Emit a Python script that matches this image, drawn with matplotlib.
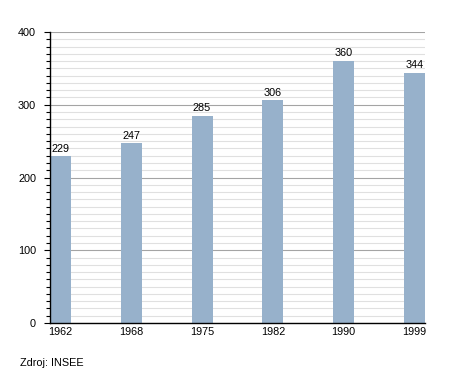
import matplotlib
matplotlib.use("Agg")
import matplotlib.pyplot as plt
from matplotlib.ticker import MultipleLocator

years = ["1962", "1968", "1975", "1982", "1990", "1999"]
values = [229, 247, 285, 306, 360, 344]

plt.rcParams['font.family'] = ['Liberation Sans', 'DejaVu Sans']

fig = plt.figure(figsize=(4.55, 3.73), dpi=100)
ax = fig.add_axes([50/455, 50/373, 375/455, 291/373])

x = list(range(len(years)))
w = 0.3
bars = ax.bar(x, values, width=w, color="#97b1cb", zorder=3)
for xi, v in zip(x, values):
    ax.annotate(str(v), (xi, v), xytext=(0, 2), textcoords="offset points",
                ha="center", va="bottom", fontsize=7.8, zorder=4)

ax.set_xlim(-w/2, len(years) - 1 + w/2)
ax.set_ylim(0, 400)
ax.set_xticks(x)
ax.set_xticklabels(years, fontsize=7.8)
ax.yaxis.set_major_locator(MultipleLocator(100))
ax.yaxis.set_minor_locator(MultipleLocator(10))
ax.tick_params(axis='y', which='major', labelsize=7.8, length=4, width=0.8, pad=6)
ax.tick_params(axis='y', which='minor', length=3, width=0.8)
ax.tick_params(axis='x', length=0, pad=3)
ax.grid(axis='y', which='major', color="#a4a4a4", linewidth=0.8, zorder=1)
ax.grid(axis='y', which='minor', color="#e0e0e0", linewidth=0.8, zorder=0)
for s in ['top', 'right']:
    ax.spines[s].set_visible(False)
ax.spines['left'].set_linewidth(1)
ax.spines['bottom'].set_linewidth(1)
ax.spines['left'].set_zorder(5)
ax.spines['bottom'].set_zorder(5)

fig.text(20/455, 1 - 363/373, "Zdroj: INSEE", fontsize=7.8, va="center", ha="left")

fig.savefig("out.png", dpi=100)
